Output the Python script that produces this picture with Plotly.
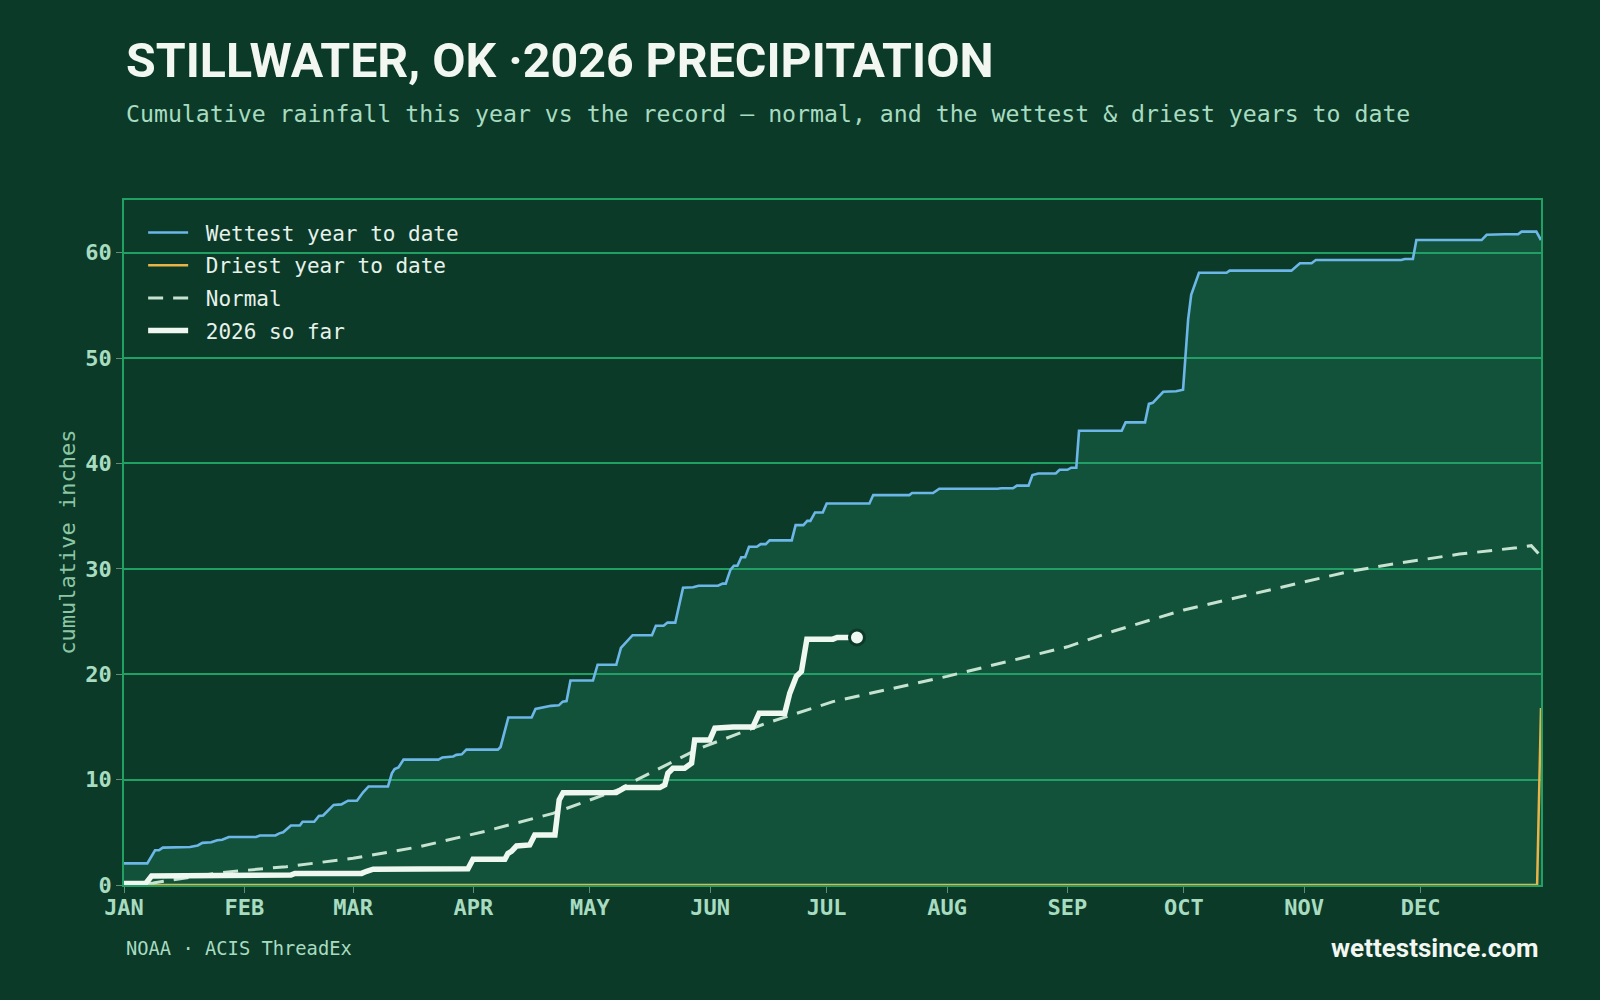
import plotly.graph_objects as go

# ---------------- data (day of year, cumulative inches) ----------------
month_days = [0, 31, 59, 90, 120, 151, 181, 212, 243, 273, 304, 334]
month_labels = ["JAN", "FEB", "MAR", "APR", "MAY", "JUN", "JUL", "AUG", "SEP", "OCT", "NOV", "DEC"]

wettest_day = [0, 6, 8, 9, 10, 13.5, 17, 19, 20.2, 22.5, 24, 25.3, 27, 34, 35, 39, 40, 41, 43, 45.3,
               46, 49, 50.2, 51.3, 54, 56, 57.7, 60, 61.6, 63, 68, 69, 69.7, 70.7, 72, 81, 82, 84.8,
               85.6, 87, 88.2, 96.3, 97, 99, 105, 106, 107.5, 110, 112, 113, 114, 115, 120.8, 122,
               126.8, 128, 131, 136, 137, 139, 140, 142, 144, 146.6, 148, 153, 154.2, 155, 156.2,
               157.1, 158, 159, 160, 161, 163, 164, 165.3, 166.3, 172, 173, 175, 176, 176.8, 178,
               180, 181, 192, 193, 202.3, 203, 208.4, 210, 225, 226, 229, 230, 233, 234, 235.5, 240,
               241, 243, 244, 245.3, 246, 257, 258, 263, 264, 265, 267.7, 271, 272.8, 273.4, 274.1,
               274.9, 276.9, 284, 284.8, 300.7, 302.9, 305.9, 307, 329, 329.9, 332, 332.9, 349.7,
               351, 355.7, 359.1, 360, 363.8, 365]
wettest_in = [2.05, 2.05, 3.3, 3.3, 3.55, 3.55, 3.6, 3.75, 4.0, 4.05, 4.25, 4.3, 4.55, 4.55, 4.7, 4.7,
              4.9, 5.0, 5.65, 5.65, 6.0, 6.0, 6.55, 6.6, 7.6, 7.65, 8.0, 8.0, 8.8, 9.35, 9.35, 10.6,
              11.0, 11.15, 11.9, 11.9, 12.1, 12.2, 12.35, 12.4, 12.85, 12.85, 13.1, 15.9, 15.9, 16.7,
              16.8, 17.0, 17.05, 17.4, 17.45, 19.4, 19.4, 20.9, 20.9, 22.5, 23.7, 23.7, 24.6, 24.6,
              24.9, 24.9, 28.2, 28.25, 28.4, 28.4, 28.6, 28.6, 29.9, 30.3, 30.3, 31.1, 31.1, 32.1,
              32.1, 32.35, 32.35, 32.7, 32.7, 34.15, 34.15, 34.55, 34.55, 35.35, 35.35, 36.2, 36.2,
              37.0, 37.0, 37.2, 37.2, 37.6, 37.6, 37.65, 37.65, 37.9, 37.9, 38.9, 39.05, 39.05, 39.4,
              39.4, 39.6, 39.6, 43.1, 43.1, 43.9, 43.9, 45.65, 45.75, 46.8, 46.85, 47.0, 50.0, 53.65,
              56.0, 58.1, 58.1, 58.3, 58.3, 59.0, 59.0, 59.3, 59.3, 59.4, 59.4, 61.2, 61.2, 61.7,
              61.75, 61.75, 62.0, 62.0, 61.2]

driest_day = [0, 364, 365]
driest_in = [0, 0, 16.8]

normal_day = [0, 7.5, 24.7, 41.8, 59, 76.2, 93.4, 110.5, 127.7, 131.1, 148.3, 165.5, 182.6, 199.8,
              212, 243, 255, 273, 304, 315, 325, 334, 344, 358.7, 362.5, 365]
normal_in = [0, 0.2, 1.17, 1.74, 2.53, 3.64, 5.13, 6.8, 9.09, 9.8, 12.98, 15.36, 17.4, 18.83,
             19.8, 22.6, 24.1, 26.1, 28.8, 29.7, 30.35, 30.85, 31.4, 32.0, 32.2, 31.2]

y2026_day = [0, 5.6, 7.1, 20, 43, 44, 61.2, 62.5, 64.2, 88.6, 89.9, 98.1, 98.9, 99.8, 101.1, 104.5,
             105.8, 111, 112.1, 113.1, 126.8, 129, 138, 139.3, 140.1, 141.4, 144.4, 146.2, 147,
             150.9, 152.2, 156.9, 162, 163.6, 170.2, 171.5, 173.2, 174.5, 175.9, 182.6, 183.7, 188.8]
y2026_in = [0.15, 0.15, 0.85, 0.9, 0.95, 1.1, 1.1, 1.3, 1.5, 1.55, 2.45, 2.45, 3.0, 3.2, 3.7, 3.8,
            4.75, 4.75, 8.07, 8.75, 8.77, 9.24, 9.24, 9.5, 10.6, 11.08, 11.08, 11.56, 13.77, 13.77,
            14.88, 15.0, 15.0, 16.3, 16.3, 18.2, 19.8, 20.26, 23.33, 23.33, 23.49, 23.49]

# ---------------- style ----------------
BG = "#0c3a29"
FILL = "rgba(40,154,113,0.25)"   # renders ~#13523b over the background, lets grid show through
GRID = "#21a064"
MINT = "#a8dcc0"
WHITE = "#eef7f0"
MONO = "DejaVu Sans Mono"
SP = "\u00a0"

fig = go.Figure()

# shaded envelope (no legend entry)
fig.add_trace(go.Scatter(x=wettest_day, y=wettest_in, mode="lines", line=dict(width=0),
                         fill="tozeroy", fillcolor=FILL, showlegend=False, hoverinfo="skip"))
fig.add_trace(go.Scatter(x=wettest_day, y=wettest_in, mode="lines", name=SP + "Wettest year to date",
                         line=dict(color="#6db6e8", width=2.6), legendgroup="g1", hoverinfo="skip"))
fig.add_trace(go.Scatter(x=driest_day, y=driest_in, mode="lines", name=SP + "Driest year to date",
                         line=dict(color="#e8b44a", width=2.5), legendgroup="g2", hoverinfo="skip"))
fig.add_trace(go.Scatter(x=normal_day, y=normal_in, mode="lines", name=SP + "Normal",
                         line=dict(color="#c5e3d0", width=3, dash="15px,10px"),
                         legendgroup="g3", hoverinfo="skip"))
fig.add_trace(go.Scatter(x=y2026_day, y=y2026_in, mode="lines", name=SP + "2026 so far",
                         line=dict(color=WHITE, width=5.5), legendgroup="g4", hoverinfo="skip"))
fig.add_trace(go.Scatter(x=[y2026_day[-1]], y=[y2026_in[-1]], mode="markers", showlegend=False,
                         marker=dict(size=15, color=WHITE, line=dict(color=BG, width=3)),
                         hoverinfo="skip"))

fig.update_layout(
    width=1600, height=1000,
    paper_bgcolor=BG, plot_bgcolor=BG,
    margin=dict(l=124, r=59, t=200, b=115),
    showlegend=True,
    legend=dict(x=0.0135, y=0.982, xanchor="left", yanchor="top", bgcolor="rgba(0,0,0,0)",
                font=dict(family=MONO, size=21, color="#e6f2ea"), tracegroupgap=2.4,
                itemwidth=40, traceorder="grouped"),
    annotations=[
        dict(text="STILLWATER, OK ·2026 PRECIPITATION", x=0, y=1.203, xref="paper", yref="paper",
             xanchor="left", yanchor="middle", showarrow=False,
             font=dict(family="Roboto", size=48.3, color="#f2f7f2", weight="bold")),
        dict(text="Cumulative rainfall this year vs the record — normal, and the wettest & driest years to date",
             x=0, y=1.127, xref="paper", yref="paper", xanchor="left", yanchor="middle",
             showarrow=False, font=dict(family=MONO, size=23.2, color=MINT)),
        dict(text="cumulative inches", x=-0.0401, y=0.5, xref="paper", yref="paper",
             xanchor="center", yanchor="middle", textangle=-90, showarrow=False,
             font=dict(family=MONO, size=22, color="#8cc7a5")),
        dict(text="NOAA · ACIS ThreadEx", x=0, y=-0.092, xref="paper", yref="paper",
             xanchor="left", yanchor="middle", showarrow=False,
             font=dict(family=MONO, size=18.75, color=MINT)),
        dict(text="wettestsince.com", x=1, y=-0.092, xref="paper", yref="paper",
             xanchor="right", yanchor="middle", showarrow=False,
             font=dict(family="Roboto", size=26, color="#f2f7f2", weight="bold")),
    ],
)

fig.update_xaxes(range=[0, 365], tickvals=month_days, ticktext=month_labels,
                 showgrid=False, zeroline=False, showline=True, linecolor=GRID, linewidth=1.5,
                 mirror=True, ticks="outside", ticklen=6, tickcolor="#5f8f78",
                 ticklabelstandoff=-4,
                 tickfont=dict(family=MONO, size=22, color=MINT, weight="bold"),
                 layer="below traces", fixedrange=True)
fig.update_yaxes(range=[0, 65], dtick=10, showgrid=True, gridcolor=GRID, gridwidth=1.5,
                 zeroline=False, showline=True, linecolor=GRID, linewidth=1.5, mirror=True,
                 ticks="outside", ticklen=6, tickcolor="#5f8f78",
                 tickfont=dict(family=MONO, size=22, color=MINT, weight="bold"),
                 layer="below traces", fixedrange=True)

fig.write_html("out.html")
